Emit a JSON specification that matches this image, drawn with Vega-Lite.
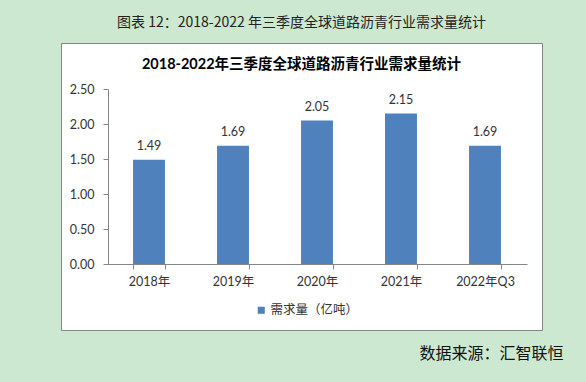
{
  "$schema": "https://vega.github.io/schema/vega-lite/v6.json",
  "width": 481,
  "height": 287,
  "autosize": {"type": "none"},
  "padding": {"left": 61, "top": 43, "right": 44, "bottom": 52},
  "background": "#cde8d0",
  "title": {
    "text": "图表 12：2018-2022 年三季度全球道路沥青行业需求量统计",
    "subtitle": "2018-2022年三季度全球道路沥青行业需求量统计",
    "anchor": "middle",
    "offset": -28,
    "font": "Noto Sans CJK SC",
    "fontSize": 14,
    "fontWeight": "normal",
    "color": "#222222",
    "subtitleFont": "Lato, Noto Sans CJK SC",
    "subtitleFontSize": 14.5,
    "subtitleFontWeight": "bold",
    "subtitleColor": "#000000",
    "subtitlePadding": 28
  },
  "data": {
    "values": [
      {"year": "2018年", "value": 1.49},
      {"year": "2019年", "value": 1.69},
      {"year": "2020年", "value": 2.05},
      {"year": "2021年", "value": 2.15},
      {"year": "2022年Q3", "value": 1.69}
    ]
  },
  "encoding": {
    "x": {
      "field": "year",
      "type": "nominal",
      "sort": null,
      "scale": {"range": [46, 466], "paddingInner": 0.62, "paddingOuter": 0.31},
      "axis": {
        "title": "数据来源：汇智联恒",
        "titleX": 502,
        "titleY": 89,
        "titleAlign": "right",
        "titleBaseline": "middle",
        "titleFont": "Noto Sans CJK SC",
        "titleFontSize": 16,
        "titleFontWeight": "normal",
        "titleColor": "#111111",
        "labelAngle": 0,
        "labelFont": "Lato, Noto Sans CJK SC",
        "labelFontSize": 12.5,
        "labelColor": "#333333",
        "labelPadding": 6,
        "tickBand": "extent",
        "tickSize": 5,
        "tickColor": "#868686",
        "domainColor": "#868686",
        "offset": -66
      }
    },
    "y": {
      "field": "value",
      "type": "quantitative",
      "scale": {"domain": [0, 2.5], "range": [221, 46], "nice": false, "zero": false},
      "axis": {
        "title": null,
        "values": [0, 0.5, 1, 1.5, 2, 2.5],
        "format": ".2f",
        "grid": false,
        "labelFont": "Lato, Noto Sans CJK SC",
        "labelFontSize": 12.5,
        "labelColor": "#333333",
        "labelPadding": 9,
        "tickSize": 5,
        "tickColor": "#868686",
        "domainColor": "#868686",
        "offset": -47
      }
    }
  },
  "layer": [
    {
      "mark": {"type": "bar"},
      "encoding": {
        "color": {
          "datum": "需求量（亿吨）",
          "type": "nominal",
          "scale": {"range": ["#4f81bd"]},
          "legend": {
            "title": null,
            "orient": "none",
            "legendX": 194,
            "legendY": 261,
            "symbolType": "square",
            "symbolSize": 50,
            "symbolStrokeWidth": 0,
            "labelFont": "Noto Sans CJK SC",
            "labelFontSize": 12.5,
            "labelColor": "#333333",
            "labelOffset": 3
          }
        }
      }
    },
    {
      "mark": {"type": "text", "baseline": "bottom", "dy": -7, "font": "Lato", "fontSize": 12.5, "color": "#333333"},
      "encoding": {"text": {"field": "value", "type": "quantitative", "format": ".2f"}}
    }
  ],
  "config": {
    "view": {"fill": "white", "stroke": "#858585", "strokeWidth": 1}
  }
}
